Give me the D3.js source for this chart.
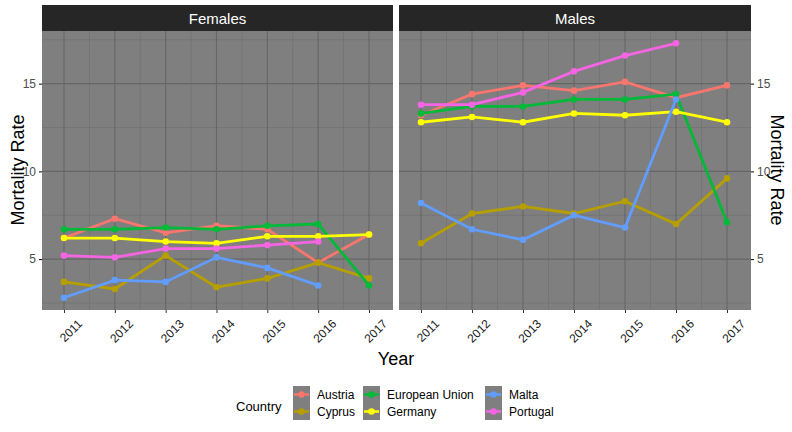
<!DOCTYPE html>
<html><head><meta charset="utf-8">
<script src="https://cdn.jsdelivr.net/npm/d3@7"></script>
<style>body{margin:0;background:#fff;font-family:Arial,"Liberation Sans",sans-serif}</style>
</head><body>
<script>
var years = [2011,2012,2013,2014,2015,2016,2017];
var countries = ["Austria","Cyprus","European Union","Germany","Malta","Portugal"];
var colors = ["#F8766D","#B79F00","#00BA38","#FFFF00","#619CFF","#F564E3"];
var yTicks = [5,10,15];
// values by country, index matches years (null = missing)
var females = {
  "Austria":[6.2,7.3,6.5,6.9,6.7,4.8,6.4],
  "Cyprus":[3.7,3.3,5.2,3.4,3.9,4.8,3.9],
  "European Union":[6.7,6.7,6.8,6.7,6.9,7.0,3.5],
  "Germany":[6.2,6.2,6.0,5.9,6.3,6.3,6.4],
  "Malta":[2.8,3.8,3.7,5.1,4.5,3.5,null],
  "Portugal":[5.2,5.1,5.6,5.6,5.8,6.0,null]
};
var males = {
  "Austria":[13.2,14.4,14.9,14.6,15.1,14.2,14.9],
  "Cyprus":[5.9,7.6,8.0,7.6,8.3,7.0,9.6],
  "European Union":[13.3,13.7,13.7,14.1,14.1,14.4,7.1],
  "Germany":[12.8,13.1,12.8,13.3,13.2,13.4,12.8],
  "Malta":[8.2,6.7,6.1,7.5,6.8,14.1,null],
  "Portugal":[13.8,13.8,14.5,15.7,16.6,17.3,null]
};
var panels = [{name:"Females",data:females,x0:42,x1:393},{name:"Males",data:males,x0:399,x1:751}];

var svg = d3.select("body").append("svg").attr("width",792).attr("height",432);
var pTop = 31, pBottom = 310;
var y = d3.scaleLinear().domain([2.1,18.0]).range([pBottom,pTop]);
var color = d3.scaleOrdinal().domain(countries).range(colors);

panels.forEach(function(p,pi){
  var x = d3.scalePoint().domain(years).range([p.x0+22,p.x1-24]);
  var g = svg.append("g");
  g.append("rect").attr("x",p.x0).attr("y",pTop).attr("width",p.x1-p.x0).attr("height",pBottom-pTop).attr("fill","#7F7F7F");
  // minor grid
  var minorY = [2.5,7.5,12.5,17.5];
  g.selectAll(".my").data(minorY).enter().append("line")
    .attr("x1",p.x0).attr("x2",p.x1).attr("y1",function(d){return y(d)}).attr("y2",function(d){return y(d)})
    .attr("stroke","#6e6e6e").attr("stroke-width",0.6);
  var step = x.step();
  g.selectAll(".mx").data(years.slice(0,-1)).enter().append("line")
    .attr("y1",pTop).attr("y2",pBottom).attr("x1",function(d){return x(d)+step/2}).attr("x2",function(d){return x(d)+step/2})
    .attr("stroke","#6e6e6e").attr("stroke-width",0.6);
  g.selectAll(".gy").data(yTicks).enter().append("line")
    .attr("x1",p.x0).attr("x2",p.x1).attr("y1",function(d){return y(d)}).attr("y2",function(d){return y(d)})
    .attr("stroke","#666").attr("stroke-width",1.1);
  g.selectAll(".gx").data(years).enter().append("line")
    .attr("y1",pTop).attr("y2",pBottom).attr("x1",function(d){return x(d)}).attr("x2",function(d){return x(d)})
    .attr("stroke","#666").attr("stroke-width",1.1);
  // strip
  g.append("rect").attr("x",p.x0).attr("y",5).attr("width",p.x1-p.x0).attr("height",pTop-5).attr("fill","#262626");
  g.append("text").attr("x",(p.x0+p.x1)/2).attr("y",24).attr("text-anchor","middle").attr("fill","#fff").attr("font-size",15).text(p.name);
  // lines
  var line = d3.line().defined(function(d){return d!=null}).x(function(d,i){return x(years[i])}).y(function(d){return y(d)});
  countries.forEach(function(c){
    var vals = p.data[c];
    g.append("path").attr("d",line(vals)).attr("fill","none").attr("stroke",color(c)).attr("stroke-width",2.8);
    g.selectAll(null).data(vals.map(function(v,i){return {v:v,yr:years[i]}}).filter(function(d){return d.v!=null}))
      .enter().append("circle").attr("cx",function(d){return x(d.yr)}).attr("cy",function(d){return y(d.v)}).attr("r",3.3).attr("fill",color(c));
  });
  // x axis
  var xa = g.append("g").attr("transform","translate(0,"+pBottom+")")
    .call(d3.axisBottom(x).tickSize(3).tickPadding(4));
  xa.select(".domain").remove();
  xa.selectAll("line").attr("stroke","#333");
  xa.selectAll("text").attr("font-size",12).attr("fill","#1a1a1a").attr("text-anchor","end")
    .attr("transform","translate(6,2) rotate(-45)").attr("dy","0.9em");
  // y axis
  if(pi==0){
    var ya = g.append("g").attr("transform","translate("+p.x0+",0)").call(d3.axisLeft(y).tickValues(yTicks).tickSize(3));
    ya.select(".domain").remove();
    ya.selectAll("text").attr("font-size",12).attr("fill","#4d4d4d");
  } else {
    var ya2 = g.append("g").attr("transform","translate("+p.x1+",0)").call(d3.axisRight(y).tickValues(yTicks).tickSize(3));
    ya2.select(".domain").remove();
    ya2.selectAll("text").attr("font-size",12).attr("fill","#4d4d4d");
  }
});

svg.append("text").attr("transform","translate(24,170) rotate(-90)").attr("text-anchor","middle").attr("font-size",18).text("Mortality Rate");
svg.append("text").attr("transform","translate(771,170) rotate(90)").attr("text-anchor","middle").attr("font-size",18).text("Mortality Rate");
svg.append("text").attr("x",396).attr("y",365).attr("text-anchor","middle").attr("font-size",18).text("Year");

// legend
var lg = svg.append("g");
lg.append("text").attr("x",236).attr("y",411).attr("font-size",13).text("Country");
var cols = [293,363,485];
countries.forEach(function(c,i){
  var cx = cols[Math.floor(i/2)], cy = 386 + (i%2)*17;
  lg.append("rect").attr("x",cx).attr("y",cy).attr("width",17).attr("height",17).attr("fill","#7F7F7F");
  lg.append("line").attr("x1",cx+1).attr("x2",cx+16).attr("y1",cy+8.5).attr("y2",cy+8.5).attr("stroke",color(c)).attr("stroke-width",2.5);
  lg.append("circle").attr("cx",cx+8.5).attr("cy",cy+8.5).attr("r",3.3).attr("fill",color(c));
  lg.append("text").attr("x",cx+24).attr("y",cy+13).attr("font-size",12).text(c);
});
</script>
</body></html>
